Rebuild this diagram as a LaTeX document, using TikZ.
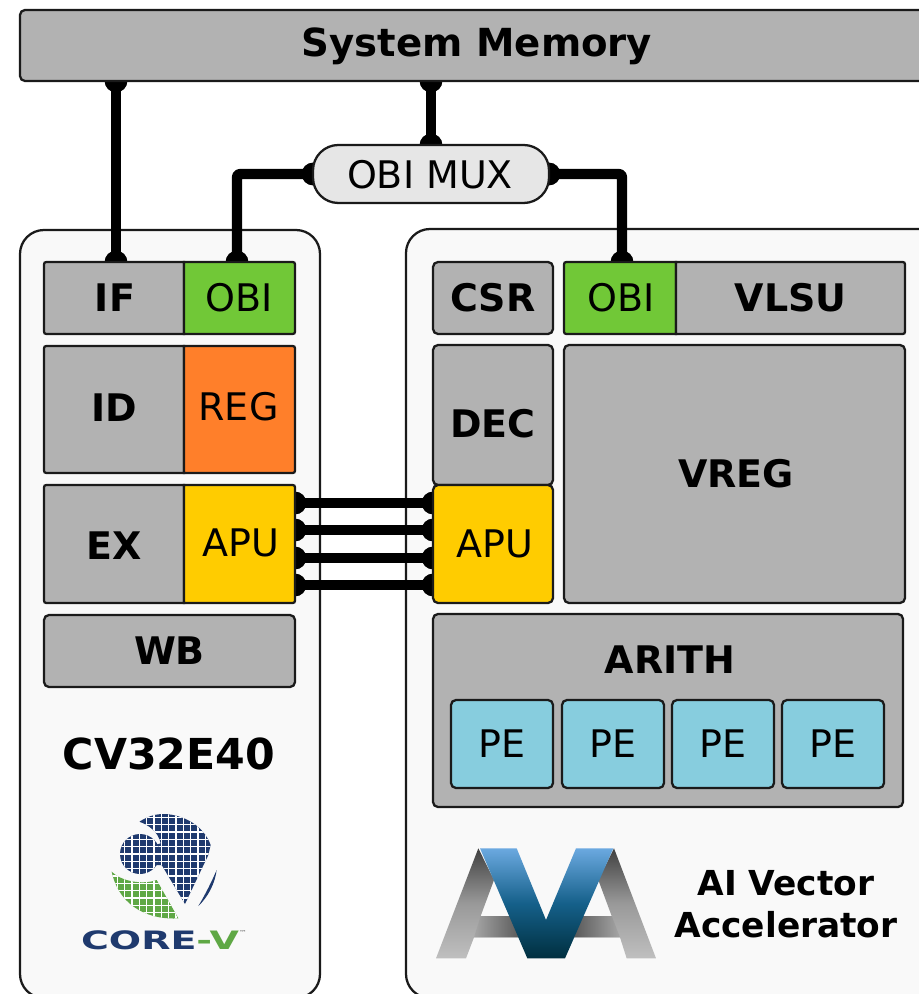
\documentclass[tikz,border=0pt]{standalone}
\usepackage{fontspec}
\setmainfont{DejaVu Sans}
\usetikzlibrary{arrows.meta}
\pgfdeclarelayer{back}
\pgfdeclarelayer{front}
\pgfsetlayers{back,main,front}
\definecolor{ink}{HTML}{1A1A1A}
\definecolor{blockgray}{HTML}{B2B2B2}
\definecolor{obigreen}{HTML}{71C837}
\definecolor{regorange}{HTML}{FF7F2A}
\definecolor{apuyellow}{HTML}{FFCC00}
\definecolor{peblue}{HTML}{87CDDE}
\definecolor{muxgray}{HTML}{E6E6E6}
\definecolor{panelgray}{HTML}{F9F9F9}
\definecolor{coreblue}{HTML}{1F3A6E}
\definecolor{coregreen}{HTML}{5FA845}
\definecolor{avatop}{HTML}{6BA9E0}
\definecolor{avamid}{HTML}{15608A}
\definecolor{avabot}{HTML}{002F3F}
\tikzset{
  x=0.75pt,y=-0.75pt,
  blk/.style={draw=ink,line width=1.7pt,rounded corners=3.75pt,inner sep=0pt,outer sep=0pt,align=center,text=black},
  ghost/.style={inner sep=0pt,outer sep=0pt,align=center,text=black},
  bold/.style={font=\fontsize{28.5}{34}\selectfont\bfseries},
  thin/.style={font=\fontsize{28.5}{34}\selectfont},
  panel/.style={draw=ink,line width=1.7pt,fill=panelgray,rounded corners=18pt,inner sep=0pt,outer sep=0pt},
  bus/.style={line width=7.6pt,line join=round,rounded corners=2pt,
    {Circle[length=17pt,width=17pt]}-{Circle[length=17pt,width=17pt]},
    shorten <=-8.5pt,shorten >=-8.5pt},
  edge/.style={draw=ink,line width=1.7pt}
}
% name, x0, y0, x1, y1, styles, text
\newcommand{\blockat}[7]{\node[#6,minimum width={(#4-#2)*0.75pt},minimum height={(#5-#3)*0.75pt}] (#1) at ({(#2+#4)/2},{(#3+#5)/2}) {#7};}
% x0,y0,x1,y1,fill : rounded on the left / on the right only
\newcommand{\leftpart}[5]{\filldraw[edge,fill=#5] (#3,#2) -- ({#1+5},#2) .. controls (#1,#2) .. (#1,{#2+5}) -- (#1,{#4-5}) .. controls (#1,#4) .. ({#1+5},#4) -- (#3,#4) -- cycle;}
\newcommand{\rightpart}[5]{\filldraw[edge,fill=#5] (#1,#2) -- ({#3-5},#2) .. controls (#3,#2) .. (#3,{#2+5}) -- (#3,{#4-5}) .. controls (#3,#4) .. ({#3-5},#4) -- (#1,#4) -- cycle;}
\newcommand{\gridlines}{%
  \foreach \gx in {150,172,...,480} {\draw[white,line width=1.1pt] (\gx,20) -- (\gx,370);}
  \foreach \gy in {30,52,...,370} {\draw[white,line width=1.1pt] (140,\gy) -- (480,\gy);}
}
\begin{document}
\begin{tikzpicture}
\useasboundingbox (0,0) rectangle (918,994);

\begin{pgfonlayer}{back}
  \fill[white] (0,0) rectangle (918,994);
  \blockat{corepanel}{20}{230}{320}{998}{panel}{}
  \blockat{vecpanel}{406}{229}{960}{998}{panel}{}
\end{pgfonlayer}

\begin{pgfonlayer}{front}
  \blockat{sysmem}{20}{10}{930}{81}{blk,fill=blockgray}{}
  \node[ghost,font=\fontsize{29}{34}\selectfont\bfseries] (sysmemtext) at (477,46) {System Memory};
  \blockat{mux}{313}{145}{549}{203}{blk,fill=muxgray,rounded corners=19pt}{}
  \node[ghost,thin] (muxtext) at (430,175) {OBI MUX};

  % CV32E40 stages
  \leftpart{44}{262}{184}{334}{blockgray}
  \rightpart{184}{262}{295}{334}{obigreen}
  \blockat{if}{44}{262}{186}{334}{ghost,bold}{IF}
  \blockat{obia}{184}{262}{295}{334}{ghost,thin}{OBI}
  \leftpart{44}{346}{184}{473}{blockgray}
  \rightpart{184}{346}{295}{473}{regorange}
  \blockat{id}{44}{346}{184}{470}{ghost,bold}{ID}
  \blockat{reg}{184}{346}{293}{468}{ghost,thin}{REG}
  \leftpart{44}{485}{184}{603}{blockgray}
  \rightpart{184}{485}{295}{603}{apuyellow}
  \blockat{ex}{44}{485}{184}{607}{ghost,bold}{EX}
  \blockat{apua}{184}{485}{295}{601}{ghost,thin}{}
  \node[ghost,thin] (apuatext) at (241,543) {APU};
  \blockat{wb}{44}{615}{295}{687}{blk,fill=blockgray,bold}{WB}
  \node[ghost,font=\fontsize{32}{38}\selectfont\bfseries] (coretitle) at (169,754) {CV32E40};

  % Vector accelerator
  \blockat{csr}{433}{262}{553}{334}{blk,fill=blockgray,bold}{CSR}
  \leftpart{564}{262}{676}{334}{obigreen}
  \rightpart{676}{262}{905}{334}{blockgray}
  \blockat{obib}{564}{262}{676}{334}{ghost,thin}{}
  \node[ghost,thin] (obibtext) at (621,298) {OBI};
  \blockat{vlsu}{676}{262}{905}{334}{ghost,bold}{VLSU}
  \blockat{dec}{433}{345}{553}{485}{blk,fill=blockgray}{}
  \node[ghost,bold] (dectext) at (493,424) {DEC};
  \blockat{apub}{433}{485}{553}{603}{blk,fill=apuyellow}{}
  \node[ghost,thin] (apubtext) at (495,544) {APU};
  \blockat{vreg}{564}{345}{905}{603}{blk,fill=blockgray}{}
  \node[ghost,bold] (vregtext) at (736,474) {VREG};
  \blockat{arith}{433}{614}{903}{807}{blk,fill=blockgray}{}
  \node[ghost,bold] (arithtext) at (670,660) {ARITH};
  \blockat{pea}{451}{700}{553}{788}{blk,fill=peblue,thin}{PE}
  \blockat{peb}{562}{700}{664}{788}{blk,fill=peblue,thin}{PE}
  \blockat{pec}{672}{700}{774}{788}{blk,fill=peblue,thin}{PE}
  \blockat{ped}{782}{700}{884}{788}{blk,fill=peblue,thin}{PE}
  \node[ghost,font=\fontsize{25.8}{32}\selectfont\bfseries,text width=300*0.75pt] (avatitle) at (786,904) {AI Vector\\[-0.5pt]Accelerator};
\end{pgfonlayer}

% connectors
\coordinate (ifx) at (116,0);
\coordinate (obiax) at (237,0);
\coordinate (obibx) at (622,0);
\coordinate (busa) at (0,503);
\coordinate (busb) at (0,530);
\coordinate (busc) at (0,558);
\coordinate (busd) at (0,585);
\draw[bus] (sysmem.south -| ifx) -- (if.north -| ifx);
\draw[bus] (sysmem.south -| mux.north) -- (mux.north);
\draw[bus] (mux.west) -| (obia.north -| obiax);
\draw[bus] (mux.east) -| (obib.north -| obibx);
\draw[bus] (apua.east |- busa) -- (apub.west |- busa);
\draw[bus] (apua.east |- busb) -- (apub.west |- busb);
\draw[bus] (apua.east |- busc) -- (apub.west |- busc);
\draw[bus] (apua.east |- busd) -- (apub.west |- busd);

% CORE-V logo
\begin{pgfonlayer}{front}
\begin{scope}[shift={(60,800)},scale=1/3]
  \begin{scope}
    \clip (238,65) .. controls (270,45) and (290,42) .. (315,42) .. controls (370,45) and (430,75) .. (452,135)
      -- (445,165) -- (375,312) -- (305,195) -- (285,195) -- (285,135) -- (302,130) .. controls (295,95) and (265,75) .. (238,65) -- cycle;
    \fill[coreblue] (200,20) rectangle (480,330);
    \gridlines
  \end{scope}
  \begin{scope}
    \clip (240,162) circle (60);
    \fill[coreblue] (170,90) rectangle (310,230);
    \gridlines
  \end{scope}
  \begin{scope}
    \clip (155,215) .. controls (185,245) and (250,255) .. (290,240) -- (355,355)
      .. controls (280,360) and (180,330) .. (155,215) -- cycle;
    \fill[coregreen] (150,210) rectangle (360,360);
    \gridlines
  \end{scope}
  \fill[coreblue] (470,210) .. controls (465,250) and (445,290) .. (415,318) .. controls (435,285) and (455,245) .. (470,210) -- cycle;
  \node[inner sep=0pt,outer sep=0pt,font=\fontsize{19}{24}\selectfont\bfseries,xscale=1.5] (corev) at (312,421) {\textcolor{coreblue}{CORE}\textcolor{coregreen}{-V}\raisebox{1.1ex}{\textcolor{gray}{\fontsize{4}{5}\selectfont ™}}};
\end{scope}

% AVA logo
\begin{scope}[shift={(420,830)},scale=1/3]
  \shade[top color=black!75,bottom color=black!25,middle color=black!40]
    (175,55) -- (48,385) -- (138,385) -- (162,322) -- (300,322) -- (275,260) -- (182,258) -- (222,150) -- cycle;
  \shade[left color=black!35,right color=black!65] (162,322) -- (182,258) -- (280,258) -- (300,322) -- cycle;
  \shade[top color=black!75,bottom color=black!25,middle color=black!40]
    (582,55) -- (708,385) -- (620,385) -- (600,322) -- (462,322) -- (485,260) -- (575,258) -- (535,150) -- cycle;
  \shade[right color=black!35,left color=black!65] (600,322) -- (575,258) -- (482,258) -- (462,322) -- cycle;
  \shade[top color=avatop,bottom color=avabot,middle color=avamid]
    (180,55) -- (290,55) -- (378,270) -- (468,55) -- (580,55) -- (435,385) -- (322,385) -- cycle;
\end{scope}
\end{pgfonlayer}
\end{tikzpicture}
\end{document}
